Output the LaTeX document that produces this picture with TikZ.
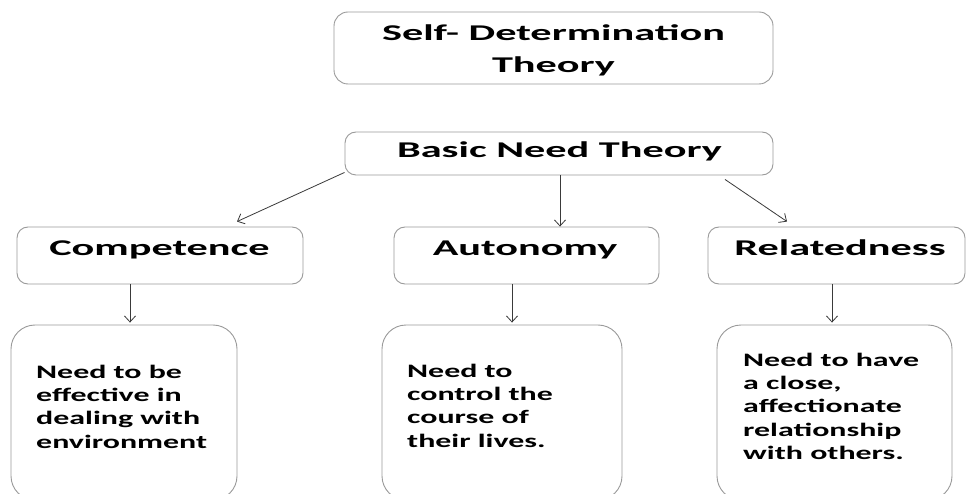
\documentclass[tikz,border=0pt]{standalone}
\usepackage{fontspec}
\usetikzlibrary{arrows.meta}
\newfontfamily\headfont{Carlito}[FakeStretch=1.88]
\newfontfamily\bodyfont{Carlito}[FakeStretch=1.68]
\definecolor{boxline}{HTML}{9A9A9A}
\definecolor{arrowline}{HTML}{3A3A3A}
\begin{document}
\begin{tikzpicture}[x=1pt,y=-1pt,
  box/.style={draw=boxline,line width=0.9pt,rounded corners=11pt,inner sep=0pt},
  bigbox/.style={draw=boxline,line width=0.9pt,rounded corners=24pt,inner sep=0pt},
  headtext/.style={inner sep=0pt,anchor=base,font=\headfont\bfseries\fontsize{22.5}{32}\selectfont},
  desctext/.style={inner sep=0pt,anchor=base west,align=left,font=\bodyfont\bfseries\fontsize{19}{23.4}\selectfont},
  arr/.style={draw=arrowline,line width=0.8pt,-{Straight Barb[length=6pt,width=11pt]}}]
\useasboundingbox[fill=white] (0,0) rectangle (966,494);

% boxes
\node[box,minimum width=439pt,minimum height=72pt,rounded corners=14pt] (sdt) at (553.5,48) {};
\node[box,minimum width=428pt,minimum height=43pt] (bnt) at (559,153.5) {};
\node[box,minimum width=286pt,minimum height=57pt] (comp) at (160,255.5) {};
\node[box,minimum width=265pt,minimum height=57pt] (auto) at (526.5,255.5) {};
\node[box,minimum width=257pt,minimum height=57pt] (rel) at (836.5,255.5) {};
\node[bigbox,minimum width=226pt,minimum height=175pt] (compd) at (124,412.5) {};
\node[bigbox,minimum width=240pt,minimum height=175pt] (autod) at (502,412.5) {};
\node[bigbox,minimum width=235pt,minimum height=175pt] (reld) at (834.5,412.5) {};

% headings
\node[headtext] (sdtA) at (553.5,41) {Self- Determination};
\node[headtext] (sdtB) at (553.5,73) {Theory};
\node[headtext] (bntT) at (559.5,158) {Basic Need Theory};
\node[headtext] (compT) at (159.5,256) {Competence};
\node[headtext] (autoT) at (525,256) {Autonomy};
\node[headtext] (relT) at (840,256) {Relatedness};

% descriptions (anchored at the baseline of the last line)
\node[desctext] (compdT) at (36,448.2) {Need to be\\effective in\\dealing with\\environment};
\node[desctext] (autodT) at (407,447.2) {Need to\\control the\\course of\\their lives.};
\node[desctext] (reldT) at (743,459.6) {Need to have\\a close,\\affectionate\\relationship\\with others.};

% connectors
\draw[arr] ([yshift=3pt]bnt.south west) -- ([xshift=77pt,yshift=5pt]comp.north);
\draw[arr] ([xshift=1pt]bnt.south) -- ([xshift=33.5pt]auto.north);
\draw[arr] ([xshift=166pt,yshift=-4pt]bnt.south) -- ([xshift=-49.5pt,yshift=5pt]rel.north);
\draw[arr] ([xshift=-30pt]comp.south) -- ([xshift=6pt,yshift=2pt]compd.north);
\draw[arr] ([xshift=-14.5pt]auto.south) -- ([xshift=10pt,yshift=2pt]autod.north);
\draw[arr] ([xshift=-4.5pt]rel.south) -- ([xshift=-2.5pt,yshift=2pt]reld.north);
\end{tikzpicture}
\end{document}
